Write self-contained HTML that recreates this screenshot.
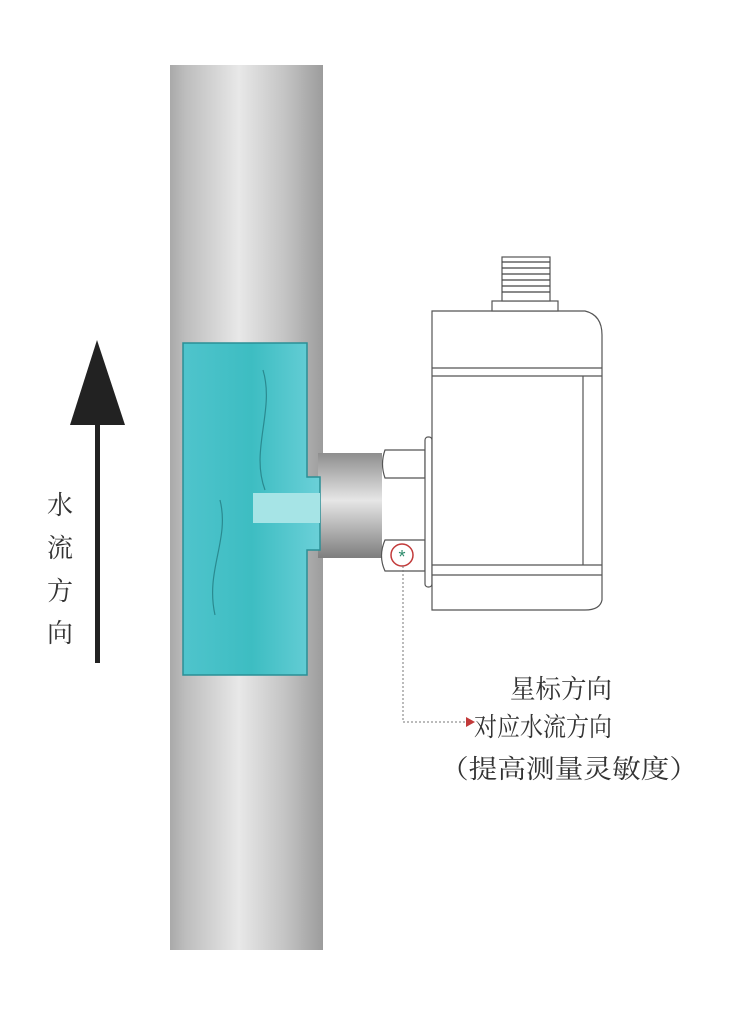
<!DOCTYPE html>
<html><head><meta charset="utf-8"><style>html,body{margin:0;padding:0;background:#fff}svg{display:block}text{font-family:"Liberation Serif","Noto Serif CJK SC",serif;fill:#333}</style></head>
<body>
<svg width="750" height="1017" viewBox="0 0 750 1017" xmlns="http://www.w3.org/2000/svg">
<defs>
<linearGradient id="pipe" x1="0" x2="1" y1="0" y2="0">
<stop offset="0" stop-color="#a9a9a9"/><stop offset="0.1" stop-color="#bdbdbd"/><stop offset="0.45" stop-color="#e8e8e8"/><stop offset="0.75" stop-color="#c4c4c4"/><stop offset="1" stop-color="#9c9c9c"/>
</linearGradient>
<linearGradient id="stub" x1="0" x2="0" y1="0" y2="1">
<stop offset="0" stop-color="#8e8e8e"/><stop offset="0.45" stop-color="#e6e6e6"/><stop offset="1" stop-color="#7e7e7e"/>
</linearGradient>
<linearGradient id="water" x1="0" x2="1" y1="0" y2="0">
<stop offset="0" stop-color="#4fc4cc"/><stop offset="0.5" stop-color="#3dbdc2"/><stop offset="1" stop-color="#6bd0d8"/>
</linearGradient>
</defs>
<rect x="170" y="65" width="153" height="885" fill="url(#pipe)"/>
<rect x="318" y="453" width="64" height="105" fill="url(#stub)"/>
<path d="M183,343 H307 V477 H320 V550 H307 V675 H183 Z" fill="url(#water)" stroke="#2a8f96" stroke-width="1.5"/>
<path d="M263,370 C275,410 250,450 265,490" stroke="#2a8a90" stroke-width="1.2" fill="none"/>
<path d="M220,500 C230,540 205,570 215,615" stroke="#2a8a90" stroke-width="1.2" fill="none"/>
<rect x="253" y="493" width="67" height="30" fill="#a6e4e6"/>
<g fill="#fff" stroke="#555" stroke-width="1.2">
<path d="M385,450 H425 V478 H385 Q380,464 385,450 Z"/>
<path d="M385,540 H425 V571 H385 Q378,556 385,540 Z"/>
<rect x="425" y="437" width="7" height="150" rx="3"/>
<path d="M432,311 H585 Q602,315 602,335 V600 Q600,610 585,610 H432 Z"/>
<line x1="432" y1="368" x2="602" y2="368"/><line x1="432" y1="376" x2="602" y2="376"/>
<line x1="432" y1="565" x2="602" y2="565"/><line x1="432" y1="575" x2="602" y2="575"/>
<line x1="583" y1="376" x2="583" y2="565"/>
<rect x="492" y="301" width="66" height="10"/>
<rect x="502" y="257" width="48" height="44"/>
</g>
<g stroke="#444" stroke-width="1.3">
<line x1="502" y1="262" x2="550" y2="262"/><line x1="502" y1="268" x2="550" y2="268"/><line x1="502" y1="274" x2="550" y2="274"/><line x1="502" y1="280" x2="550" y2="280"/><line x1="502" y1="286" x2="550" y2="286"/><line x1="502" y1="292" x2="550" y2="292"/>
</g>
<circle cx="402" cy="555" r="11" fill="#fff" stroke="#c23a3a" stroke-width="1.5"/>
<text x="402" y="563" font-size="18" text-anchor="middle" style="fill:#2a8a6a;font-family:'Liberation Sans',sans-serif">*</text>
<path d="M403,566 V722 H466" stroke="#777" stroke-width="1" stroke-dasharray="2,2" fill="none"/>
<path d="M466,717 L475,722 L466,727 Z" fill="#c23a3a"/>
<path d="M97,340 L125,425 L70,425 Z" fill="#222"/>
<rect x="95" y="420" width="5" height="243" fill="#222"/>
<g font-size="26" text-anchor="middle">
<text x="60" y="514">水</text><text x="60" y="557">流</text><text x="60" y="600">方</text><text x="60" y="642">向</text>
</g>
<g font-size="26">
<text x="510" y="698" textLength="102" lengthAdjust="spacingAndGlyphs">星标方向</text>
<text x="474" y="736" textLength="138" lengthAdjust="spacingAndGlyphs">对应水流方向</text>
<text x="440" y="778" textLength="258" lengthAdjust="spacingAndGlyphs">（提高测量灵敏度）</text>
</g>
</svg>
</body></html>
